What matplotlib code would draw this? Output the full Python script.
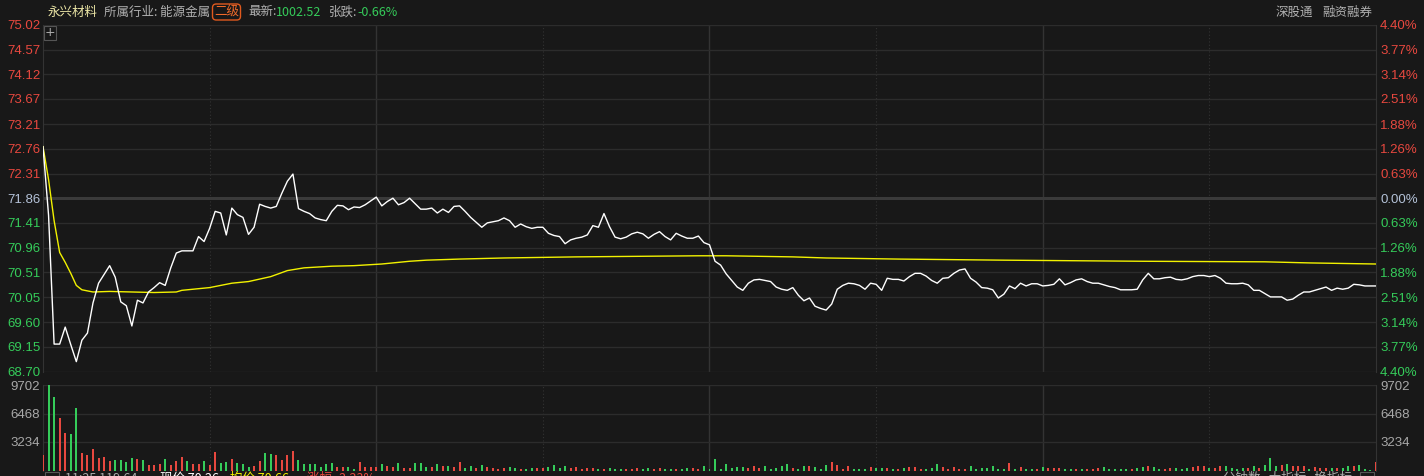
import numpy as np
import matplotlib
matplotlib.use("Agg")
import matplotlib.pyplot as plt

# ---- data ----
prev_close = 71.86

price = [
    72.80, 71.55, 69.20, 69.20, 69.51, 69.19, 68.88, 69.27, 69.40, 69.95,
    70.31, 70.47, 70.63, 70.42, 69.97, 69.90, 69.53, 70.00, 69.95, 70.15,
    70.23, 70.32, 70.27, 70.59, 70.86, 70.90, 70.90, 70.90, 71.16, 71.07,
    71.31, 71.62, 71.59, 71.19, 71.68, 71.56, 71.51, 71.20, 71.33, 71.75,
    71.71, 71.68, 71.71, 71.95, 72.17, 72.30, 71.67, 71.62, 71.58, 71.50,
    71.47, 71.45, 71.62, 71.73, 71.72, 71.65, 71.70, 71.69, 71.74, 71.81,
    71.88, 71.72, 71.80, 71.86, 71.74, 71.78, 71.86, 71.76, 71.66, 71.66,
    71.68, 71.59, 71.66, 71.60, 71.71, 71.72, 71.62, 71.51, 71.42, 71.33,
    71.41, 71.43, 71.45, 71.50, 71.45, 71.33, 71.39, 71.34, 71.31, 71.33,
    71.33, 71.22, 71.18, 71.16, 71.03, 71.10, 71.13, 71.15, 71.19, 71.36,
    71.33, 71.58, 71.34, 71.15, 71.12, 71.15, 71.21, 71.24, 71.21, 71.13,
    71.20, 71.25, 71.16, 71.10, 71.22, 71.17, 71.13, 71.13, 71.17, 71.05,
    71.01, 70.71, 70.64, 70.48, 70.36, 70.24, 70.18, 70.31, 70.37, 70.38,
    70.36, 70.34, 70.24, 70.20, 70.18, 70.23, 70.09, 69.99, 70.04, 69.89,
    69.85, 69.82, 69.93, 70.20, 70.27, 70.31, 70.30, 70.27, 70.20, 70.31,
    70.29, 70.18, 70.40, 70.38, 70.38, 70.35, 70.43, 70.49, 70.49, 70.44,
    70.36, 70.31, 70.40, 70.41, 70.49, 70.55, 70.57, 70.40, 70.33, 70.23,
    70.22, 70.19, 70.04, 70.11, 70.26, 70.21, 70.31, 70.26, 70.30, 70.30,
    70.26, 70.27, 70.29, 70.39, 70.28, 70.32, 70.37, 70.39, 70.34, 70.31,
    70.31, 70.28, 70.25, 70.23, 70.19, 70.19, 70.19, 70.20, 70.37, 70.49,
    70.39, 70.39, 70.41, 70.42, 70.38, 70.37, 70.39, 70.43, 70.45, 70.45,
    70.43, 70.45, 70.40, 70.31, 70.30, 70.30, 70.31, 70.28, 70.18, 70.18,
    70.12, 70.06, 70.06, 70.06, 70.00, 70.02, 70.09, 70.15, 70.15, 70.18,
    70.21, 70.24, 70.18, 70.22, 70.20, 70.22, 70.29, 70.28, 70.26, 70.26,
    70.26,
]

avg_min = [0, 1, 2, 3, 4, 5, 6, 7, 9, 12, 16, 20, 24, 25, 30, 34, 37, 41, 44, 47,
           52, 56, 61, 63, 66, 69, 72, 75, 83, 96, 118, 123, 135, 141, 154, 173,
           198, 220, 228, 240]
avg_price = [72.80, 72.20, 71.45, 70.87, 70.69, 70.49, 70.27, 70.19, 70.15, 70.16,
             70.15, 70.14, 70.15, 70.18, 70.23, 70.31, 70.34, 70.43, 70.54, 70.59,
             70.62, 70.63, 70.66, 70.68, 70.71, 70.73, 70.74, 70.75, 70.77, 70.79,
             70.81, 70.81, 70.79, 70.77, 70.75, 70.73, 70.71, 70.70, 70.68, 70.66]

volume = [
    1733, 9702, 8316, 6006, 4274, 4158, 7046, 1964, 1733, 2426,
    1425, 1540, 1040, 1155, 1155, 924, 1386, 1271, 1155, 578,
    578, 693, 1271, 578, 1040, 1502, 1040, 693, 693, 1040,
    578, 2079, 809, 924, 1271, 809, 693, 347, 462, 1040,
    1964, 1848, 1733, 1155, 1733, 2195, 1155, 693, 693, 693,
    347, 693, 809, 347, 347, 347, 116, 924, 347, 347,
    347, 693, 462, 347, 809, 231, 231, 809, 809, 347,
    347, 693, 462, 462, 347, 924, 231, 462, 231,
    578, 347, 231, 116, 231, 347, 231, 116, 116, 231,
    231, 231, 347, 578, 231, 462, 231, 347, 116, 231,
    231, 116, 116, 231, 116, 116, 116, 116, 231, 116,
    231, 116, 231, 116, 116, 116, 116, 231, 231, 116,
    462, 116, 1271, 116, 693, 231, 347, 347, 231, 462,
    231, 462, 116, 231, 462, 693, 231, 116, 462, 462,
    347, 116, 578, 924, 578, 116, 462, 116, 116, 116,
    347, 231, 231, 231, 116, 116, 231, 347, 347, 116,
    116, 231, 693, 347, 116, 347, 116,
    116, 462, 116, 231, 231, 462, 116, 116, 809, 116,
    347, 116, 116, 116, 347, 231, 231, 231, 116, 116,
    116, 116, 116, 116, 231, 347, 116, 116, 116, 116,
    116, 231, 347, 462, 347, 116, 116, 231, 231, 116,
    231, 347, 462, 462, 231, 231, 462, 462, 231, 116,
    231, 231, 462, 231, 578, 1386, 462, 578, 693, 462,
    462, 462, 116, 347, 231, 231, 231, 231, 231, 462,
    462, 578, 116, 60, 924,
]
vol_dir = ("rggrrggrrr" "rrrggggrgr" "rrgrrrgrrg" "rrggrgggrr" "ggrrrrgggg"
           "gggrrggrrr" "rgrrgrrggg" "rgrgrrggr"
           "grrrrggrgg" "rrggggrrrr" "rgrgggrrrg" "grrggrggrr" "ggggggggrr"
           "rgggggrggr" "gggrrrrggg" "rggrgrgrrr" "gggrrrr"
           "rgggggggrg" "rggrgrrrgg" "rgrrrggggg" "rggrggrrgg" "grrrgrrggg"
           "grgrgggrgr" "rrgrrrgrgg" "rgggr")

price_labels = ["75.02", "74.57", "74.12", "73.67", "73.21", "72.76", "72.31", "71.86",
                "71.41", "70.96", "70.51", "70.05", "69.60", "69.15", "68.70"]
pct_labels = ["4.40%", "3.77%", "3.14%", "2.51%", "1.88%", "1.26%", "0.63%", "0.00%",
              "0.63%", "1.26%", "1.88%", "2.51%", "3.14%", "3.77%", "4.40%"]
vol_labels = ["3234", "6468", "9702"]

# ---- style ----
BG = "#181818"
GRID = "#2c2c2c"
RED = "#e8483f"
GREEN = "#35cc5a"
GRAY = "#a8a8a8"
NUM = "Liberation Sans"
CJK = ["Noto Sans CJK SC", "DejaVu Sans"]

W, H = 1424, 476
fig = plt.figure(figsize=(W / 100, H / 100), dpi=100, facecolor=BG)

def box(x0, y0, x1, y1):
    return [x0 / W, 1 - y1 / H, (x1 - x0) / W, (y1 - y0) / H]

ax = fig.add_axes(box(43, 24.9, 1376, 371.5), facecolor=BG)
axv = fig.add_axes(box(43, 385, 1376, 470.5), facecolor=BG)

minutes = np.arange(len(price))
ptick = [float(s) for s in price_labels]

for a in (ax, axv):
    a.set_xlim(0, 240)
    for s in a.spines.values():
        s.set_visible(False)
    a.spines["left"].set_visible(True)
    a.spines["right"].set_visible(True)
    a.spines["left"].set_color("#333333")
    a.spines["right"].set_color("#333333")
    a.set_xticks([])
    for m in (60, 120, 180):
        a.axvline(m, color="#333333", lw=1.0, zorder=1)
    for m in (30, 90, 150, 210):
        a.axvline(m, color="#333333", lw=0.8, ls=(0, (1, 2)), zorder=1)

# price panel
ax.set_ylim(68.70, 75.02)
for p in ptick:
    if abs(p - prev_close) < 1e-6:
        ax.axhline(p, color="#3a3a3a", lw=2.2, zorder=1)
    else:
        ax.axhline(p, color=GRID, lw=1.0, zorder=1)
ax.plot(avg_min, avg_price, color="#f2f200", lw=1.0, zorder=3)
ax.plot(minutes, price, color="#ffffff", lw=1.0, zorder=4)

ax.set_yticks(ptick)
ax.set_yticklabels(price_labels)
ax.tick_params(axis="y", length=0, pad=2)
for lab, p in zip(ax.get_yticklabels(), ptick):
    lab.set_fontfamily(NUM)
    lab.set_fontsize(9.5)
    if p > prev_close + 1e-6:
        lab.set_color(RED)
    elif p < prev_close - 1e-6:
        lab.set_color(GREEN)
    else:
        lab.set_color("#b4c2d8")

axr = ax.twinx()
axr.set_ylim(ax.get_ylim())
axr.set_yticks(ptick)
axr.set_yticklabels(pct_labels)
axr.tick_params(axis="y", length=0, pad=3)
for s in axr.spines.values():
    s.set_visible(False)
for lab, p in zip(axr.get_yticklabels(), ptick):
    lab.set_fontfamily(NUM)
    lab.set_fontsize(9.5)
    if p > prev_close + 1e-6:
        lab.set_color(RED)
    elif p < prev_close - 1e-6:
        lab.set_color(GREEN)
    else:
        lab.set_color("#b4c2d8")

# volume panel
vticks = [float(v) for v in vol_labels]
axv.set_ylim(0, 9702)
for v in vticks:
    axv.axhline(v, color=GRID, lw=1.0, zorder=1)
axv.axhline(0, color="#333333", lw=1.0, zorder=1)
bar_colors = [RED if d == "r" else GREEN for d in vol_dir]
axv.bar(minutes, volume, width=0.36, color=bar_colors, zorder=3)
axv.set_yticks(vticks)
axv.set_yticklabels(vol_labels)
axv.tick_params(axis="y", length=0, pad=2, labelcolor=GRAY)
axvr = axv.twinx()
axvr.set_ylim(axv.get_ylim())
axvr.set_yticks(vticks)
axvr.set_yticklabels(vol_labels)
axvr.tick_params(axis="y", length=0, pad=3, labelcolor=GRAY)
for s in axvr.spines.values():
    s.set_visible(False)
for lab in axv.get_yticklabels() + axvr.get_yticklabels():
    lab.set_fontfamily(NUM)
    lab.set_fontsize(9.5)

# header
def ftext(x, y, s, **kw):
    return fig.text(x / W, 1 - y / H, s, va="center", family=CJK, fontsize=9, **kw)

ftext(48, 12, "永兴材料", color="#ece6a6")
ftext(104, 12, "所属行业: 能源金属", color="#b0b0b0")
ftext(214, 12, "二级", color="#f06a2a",
      bbox=dict(boxstyle="round,pad=0.12,rounding_size=0.3", fc="none", ec="#e05a1e", lw=1))
ftext(248, 12, "最新:", color="#b0b0b0")
ftext(276, 12, "1002.52", color=GREEN)
ftext(329, 12, "张跌:", color="#b0b0b0")
ftext(357, 12, "-0.66%", color=GREEN)
ftext(1276, 12, "深股通", color="#b0b0b0")
ftext(1322, 12, "融资融券", color="#b0b0b0")

# small plus box at top-left of the price panel
fig.text(50 / W, 1 - 33 / H, "+", ha="center", va="center", color="#b0b0b0",
         fontsize=9, family="DejaVu Sans",
         bbox=dict(boxstyle="square,pad=0.05", fc=BG, ec="#555555", lw=0.8))

# bottom strip (cut off by the window edge)
def btext(x, s, color):
    fig.text(x / W, 1 - 472 / H, s, va="top", color=color, family=CJK, fontsize=9)

fig.patches.append(plt.Rectangle((45 / W, 0), 14 / W, 4 / H, transform=fig.transFigure,
                                 fc="none", ec="#555555", lw=0.8))
btext(65, "11:25 119.64", "#a8a8a8")
btext(160, "现价 70.26", "#ffffff")
btext(230, "均价 70.66", "#f2f200")
btext(307, "涨幅 -2.23%", RED)
btext(1223, "分钟数   大指标   换指标", "#a8a8a8")
fig.patches.append(plt.Rectangle((1360 / W, 0), 14 / W, 4 / H, transform=fig.transFigure,
                                 fc="none", ec="#555555", lw=0.8))

fig.savefig("out.png", dpi=100, facecolor=BG)
